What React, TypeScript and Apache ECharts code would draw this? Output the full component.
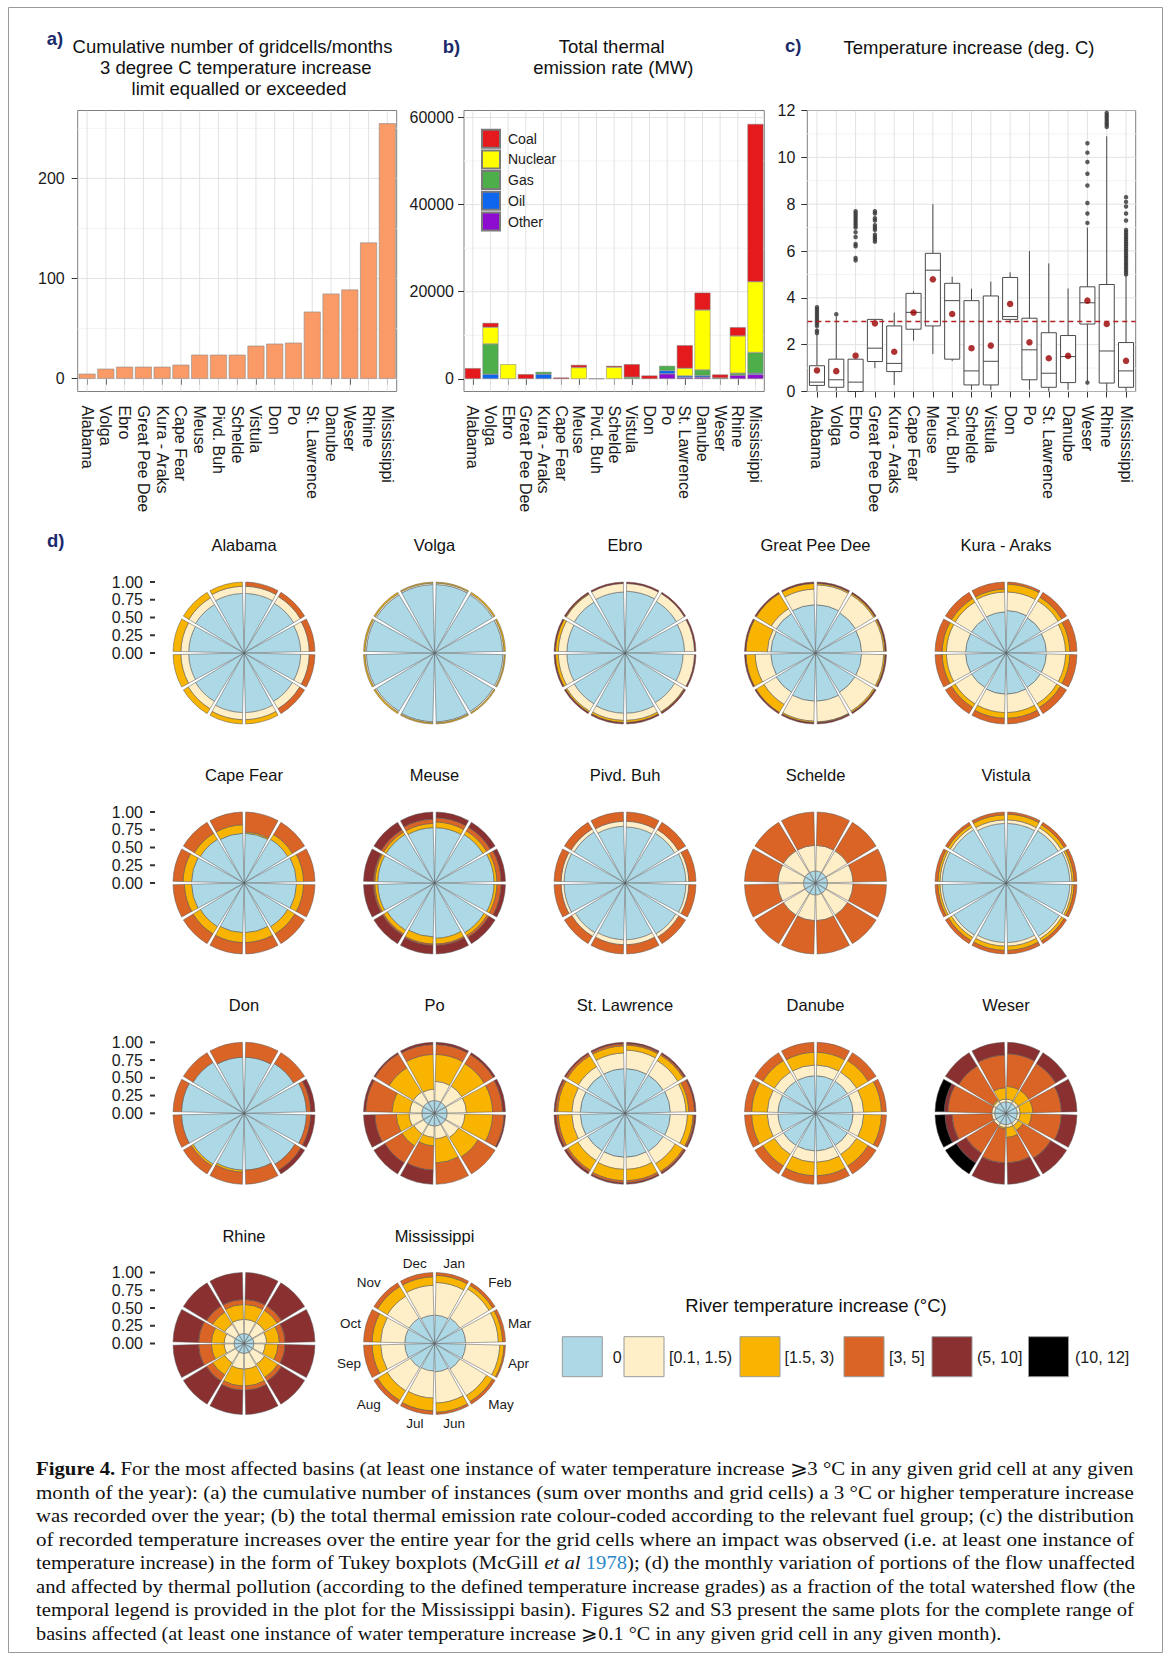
import React, { useEffect, useRef } from "react";
import * as echarts from "echarts";

// ---------------- DATA ----------------
const BASINS = [
  "Alabama", "Volga", "Ebro", "Great Pee Dee", "Kura - Araks", "Cape Fear", "Meuse", "Pivd. Buh",
  "Schelde", "Vistula", "Don", "Po", "St. Lawrence", "Danube", "Weser", "Rhine", "Mississippi",
];

// (a) cumulative number of gridcells/months with >= 3 degC
const GRIDCELL_MONTHS = [5, 10, 12, 12, 12, 14, 24, 24, 24, 33, 35, 36, 67, 85, 89, 136, 255];
const A_TICKS = [0, 100, 200];
const A_MINOR = [50, 150, 250];

// (b) thermal emission rate (MW) by fuel
const FUEL_OTHER = [0, 0, 0, 0, 0, 0, 0, 0, 0, 0, 0, 1150, 300, 380, 0, 840, 1000];
const FUEL_OIL = [0, 1070, 0, 0, 1070, 0, 0, 0, 0, 0, 0, 760, 380, 380, 0, 0, 300];
const FUEL_GAS = [0, 6950, 0, 0, 530, 0, 0, 0, 0, 380, 0, 1070, 0, 1300, 200, 460, 4740];
const FUEL_NUCLEAR = [0, 3820, 3350, 0, 0, 0, 2600, 0, 2670, 0, 0, 0, 1760, 13750, 0, 8560, 16270];
const FUEL_COAL = [2450, 1000, 0, 1070, 0, 300, 600, 60, 300, 2980, 760, 0, 5270, 3970, 800, 1990, 36200];
const B_TICKS = [0, 20000, 40000, 60000];
const B_MINOR = [10000, 30000, 50000];

// (c) temperature increase boxplots
const BOX_LOW = [0.02, 0.02, 0.0, 1.0, 0.28, 2.17, 1.6, 1.3, 0.07, 0.07, 2.91, 0.07, 0.0, 0.07, 0.45, 0.0, 0.0];
const BOX_Q1 = [0.26, 0.18, 0.0, 1.28, 0.85, 2.66, 2.8, 1.38, 0.28, 0.28, 3.08, 0.5, 0.18, 0.38, 2.88, 0.36, 0.18];
const BOX_MED = [0.4, 0.5, 0.4, 1.85, 1.2, 3.38, 5.18, 3.88, 0.88, 1.29, 3.2, 1.78, 0.78, 1.49, 3.79, 1.73, 0.88];
const BOX_Q3 = [1.1, 1.38, 1.38, 3.08, 2.8, 4.19, 5.9, 4.62, 3.88, 4.08, 4.87, 3.13, 2.51, 2.39, 4.47, 4.57, 2.09];
const BOX_HIGH = [2.45, 3.2, 1.38, 3.08, 3.37, 4.3, 8.0, 4.9, 4.39, 4.69, 5.09, 6.0, 5.47, 4.4, 7.0, 10.9, 4.97];
const BOX_MEAN = [0.9, 0.87, 1.53, 2.91, 1.7, 3.37, 4.79, 3.31, 1.85, 1.96, 3.74, 2.1, 1.42, 1.52, 3.88, 2.88, 1.31];
const OUTLIERS = [
  [2.5, 2.6, 2.8, 2.9, 3.0, 3.1, 3.2, 3.3, 3.4, 3.5, 3.6],
  [3.3],
  [5.6, 5.7, 6.2, 6.3, 6.6, 6.8, 7.0, 7.1, 7.2, 7.3, 7.4, 7.5, 7.6, 7.7],
  [6.4, 6.5, 6.6, 6.7, 6.9, 7.0, 7.1, 7.3, 7.4, 7.6, 7.7],
  [], [], [], [], [], [], [], [], [], [],
  [0.38, 7.2, 7.6, 8.05, 8.8, 9.3, 9.8, 10.2, 10.6],
  [11.3, 11.4, 11.5, 11.6, 11.7, 11.8, 11.9],
  [5.0, 5.1, 5.2, 5.3, 5.4, 5.5, 5.6, 5.7, 5.8, 5.9, 6.0, 6.1, 6.2, 6.3, 6.4, 6.5, 6.6, 6.7, 6.8, 6.9, 7.3, 7.6, 7.9, 8.1, 8.3],
];
const C_TICKS = [0, 2, 4, 6, 8, 10, 12];
const C_MINOR = [1, 3, 5, 7, 9, 11];
const THRESHOLD = 3;

// (d) monthly flow fractions per grade: [0, [0.1,1.5), [1.5,3), [3,5], (5,10], (10,12]]
const MONTHS = ["Jan", "Feb", "Mar", "Apr", "May", "Jun", "Jul", "Aug", "Sep", "Oct", "Nov", "Dec"];
const GRADES = ["0", "[0.1, 1.5)", "[1.5, 3)", "[3, 5]", "(5, 10]", "(10, 12]"];
const RADIAL_TICKS = ["1.00", "0.75", "0.50", "0.25", "0.00"];

const FLOW_ALABAMA = [
  [0.84, 0.10, 0, 0.06, 0, 0], [0.82, 0.11, 0, 0.07, 0, 0], [0.80, 0.12, 0, 0.08, 0, 0],
  [0.80, 0.12, 0, 0.08, 0, 0], [0.80, 0.12, 0, 0.08, 0, 0], [0.84, 0.10, 0.06, 0, 0, 0],
  [0.84, 0.10, 0.06, 0, 0, 0], [0.80, 0.12, 0.08, 0, 0, 0], [0.78, 0.11, 0.11, 0, 0, 0],
  [0.78, 0.11, 0.11, 0, 0, 0], [0.80, 0.11, 0.09, 0, 0, 0], [0.84, 0.10, 0.06, 0, 0, 0],
];
const FLOW_VOLGA = [
  [0.965, 0.02, 0.015, 0, 0, 0], [0.96, 0.02, 0.02, 0, 0, 0], [0.96, 0.02, 0.02, 0, 0, 0],
  [0.965, 0.02, 0.015, 0, 0, 0], [0.965, 0.02, 0.015, 0, 0, 0], [0.97, 0.015, 0.015, 0, 0, 0],
  [0.97, 0.015, 0.015, 0, 0, 0], [0.96, 0.02, 0.02, 0, 0, 0], [0.96, 0.02, 0.02, 0, 0, 0],
  [0.96, 0.02, 0.02, 0, 0, 0], [0.96, 0.02, 0.02, 0, 0, 0], [0.965, 0.02, 0.015, 0, 0, 0],
];
const FLOW_EBRO = [
  [0.87, 0.11, 0, 0, 0.02, 0], [0.85, 0.13, 0, 0, 0.02, 0], [0.84, 0.14, 0, 0, 0.02, 0],
  [0.82, 0.16, 0, 0, 0.02, 0], [0.82, 0.15, 0.01, 0, 0.02, 0], [0.85, 0.10, 0.03, 0, 0.02, 0],
  [0.85, 0.10, 0.03, 0, 0.02, 0], [0.84, 0.12, 0.02, 0, 0.02, 0], [0.82, 0.12, 0.04, 0, 0.02, 0],
  [0.82, 0.12, 0.04, 0, 0.02, 0], [0.84, 0.13, 0.01, 0, 0.02, 0], [0.86, 0.12, 0, 0, 0.02, 0],
];
const FLOW_GREAT_PEE_DEE = [
  [0.68, 0.28, 0.02, 0, 0.02, 0], [0.66, 0.30, 0.02, 0, 0.02, 0], [0.65, 0.31, 0.02, 0, 0.02, 0],
  [0.65, 0.31, 0.02, 0, 0.02, 0], [0.65, 0.31, 0.02, 0, 0.02, 0], [0.68, 0.29, 0.01, 0, 0.02, 0],
  [0.68, 0.28, 0.02, 0, 0.02, 0], [0.65, 0.20, 0.13, 0, 0.02, 0], [0.63, 0.22, 0.13, 0, 0.02, 0],
  [0.63, 0.05, 0.30, 0, 0.02, 0], [0.65, 0.08, 0.25, 0, 0.02, 0], [0.68, 0.22, 0.08, 0, 0.02, 0],
];
const FLOW_KURA_ARAKS = [
  [0.60, 0.26, 0.11, 0.03, 0, 0], [0.58, 0.28, 0.06, 0.08, 0, 0], [0.57, 0.27, 0.06, 0.10, 0, 0],
  [0.57, 0.27, 0.06, 0.10, 0, 0], [0.57, 0.27, 0.06, 0.10, 0, 0], [0.58, 0.26, 0.08, 0.08, 0, 0],
  [0.58, 0.26, 0.08, 0.08, 0, 0], [0.57, 0.27, 0.06, 0.10, 0, 0], [0.57, 0.27, 0.06, 0.10, 0, 0],
  [0.57, 0.27, 0.06, 0.10, 0, 0], [0.57, 0.27, 0.06, 0.10, 0, 0], [0.58, 0.28, 0.04, 0.10, 0, 0],
];
const FLOW_CAPE_FEAR = [
  [0.70, 0, 0.02, 0.28, 0, 0], [0.72, 0, 0.08, 0.20, 0, 0], [0.74, 0, 0.10, 0.16, 0, 0],
  [0.74, 0, 0.10, 0.16, 0, 0], [0.72, 0, 0.12, 0.16, 0, 0], [0.70, 0, 0.14, 0.16, 0, 0],
  [0.70, 0, 0.14, 0.16, 0, 0], [0.72, 0, 0.12, 0.16, 0, 0], [0.74, 0, 0.10, 0.16, 0, 0],
  [0.74, 0, 0.12, 0.14, 0, 0], [0.72, 0, 0.10, 0.18, 0, 0], [0.70, 0, 0.12, 0.18, 0, 0],
];
const FLOW_MEUSE = [
  [0.78, 0, 0.08, 0.06, 0.08, 0], [0.80, 0, 0.06, 0.06, 0.08, 0], [0.84, 0, 0.04, 0.06, 0.06, 0],
  [0.84, 0, 0.04, 0.06, 0.06, 0], [0.82, 0, 0.05, 0.03, 0.10, 0], [0.78, 0, 0.08, 0.02, 0.12, 0],
  [0.76, 0, 0.10, 0.02, 0.12, 0], [0.78, 0, 0.06, 0.02, 0.14, 0], [0.80, 0, 0.04, 0.02, 0.14, 0],
  [0.80, 0, 0.04, 0.02, 0.14, 0], [0.80, 0, 0.04, 0.04, 0.12, 0], [0.78, 0, 0.06, 0.06, 0.10, 0],
];
const FLOW_PIVD_BUH = [
  [0.79, 0.08, 0, 0.13, 0, 0], [0.82, 0.06, 0, 0.12, 0, 0], [0.86, 0.04, 0, 0.10, 0, 0],
  [0.86, 0.04, 0, 0.10, 0, 0], [0.84, 0.05, 0, 0.11, 0, 0], [0.80, 0.07, 0, 0.13, 0, 0],
  [0.80, 0.07, 0, 0.13, 0, 0], [0.82, 0.06, 0, 0.12, 0, 0], [0.86, 0.04, 0, 0.10, 0, 0],
  [0.86, 0.04, 0, 0.10, 0, 0], [0.84, 0.05, 0, 0.11, 0, 0], [0.80, 0.07, 0, 0.13, 0, 0],
];
const FLOW_SCHELDE = [
  [0.17, 0.36, 0, 0.47, 0, 0], [0.17, 0.36, 0, 0.47, 0, 0], [0.17, 0.36, 0, 0.47, 0, 0],
  [0.17, 0.36, 0, 0.47, 0, 0], [0.17, 0.36, 0, 0.47, 0, 0], [0.17, 0.36, 0, 0.47, 0, 0],
  [0.17, 0.36, 0, 0.47, 0, 0], [0.17, 0.36, 0, 0.47, 0, 0], [0.17, 0.36, 0, 0.47, 0, 0],
  [0.17, 0.36, 0, 0.47, 0, 0], [0.17, 0.36, 0, 0.47, 0, 0], [0.17, 0.36, 0, 0.47, 0, 0],
];
const FLOW_VISTULA = [
  [0.84, 0.05, 0.08, 0.03, 0, 0], [0.86, 0.05, 0.05, 0.04, 0, 0], [0.90, 0.03, 0.03, 0.04, 0, 0],
  [0.90, 0.03, 0.03, 0.04, 0, 0], [0.88, 0.04, 0.04, 0.04, 0, 0], [0.84, 0.05, 0.06, 0.05, 0, 0],
  [0.84, 0.05, 0.06, 0.05, 0, 0], [0.86, 0.04, 0.05, 0.05, 0, 0], [0.90, 0.03, 0.03, 0.04, 0, 0],
  [0.90, 0.03, 0.03, 0.04, 0, 0], [0.88, 0.04, 0.04, 0.04, 0, 0], [0.84, 0.05, 0.07, 0.04, 0, 0],
];
const FLOW_DON = [
  [0.79, 0, 0, 0.21, 0, 0], [0.82, 0, 0, 0.18, 0, 0], [0.88, 0, 0, 0.06, 0.06, 0],
  [0.88, 0, 0, 0.06, 0.06, 0], [0.84, 0, 0, 0.10, 0.06, 0], [0.80, 0, 0, 0.20, 0, 0],
  [0.80, 0, 0.03, 0.17, 0, 0], [0.84, 0, 0.03, 0.13, 0, 0], [0.88, 0, 0, 0.12, 0, 0],
  [0.88, 0, 0, 0.12, 0, 0], [0.84, 0, 0, 0.16, 0, 0], [0.79, 0, 0, 0.21, 0, 0],
];
const FLOW_PO = [
  [0.18, 0.27, 0.38, 0.14, 0.03, 0], [0.18, 0.27, 0.37, 0.15, 0.03, 0], [0.18, 0.27, 0.37, 0.14, 0.04, 0],
  [0.18, 0.25, 0.39, 0.16, 0.02, 0], [0.18, 0.22, 0.32, 0.28, 0, 0], [0.18, 0.18, 0.34, 0.30, 0, 0],
  [0.18, 0.16, 0.12, 0.34, 0.20, 0], [0.18, 0.16, 0.20, 0.28, 0.18, 0], [0.18, 0.18, 0.18, 0.30, 0.16, 0],
  [0.18, 0.17, 0.25, 0.37, 0.03, 0], [0.18, 0.17, 0.40, 0.23, 0.02, 0], [0.18, 0.16, 0.49, 0.14, 0.03, 0],
];
const FLOW_ST_LAWRENCE = [
  [0.63, 0.26, 0.07, 0.02, 0.02, 0], [0.63, 0.24, 0.09, 0.02, 0.02, 0], [0.64, 0.22, 0.04, 0.08, 0.02, 0],
  [0.64, 0.24, 0.08, 0.02, 0.02, 0], [0.63, 0.20, 0.13, 0.02, 0.02, 0], [0.62, 0.17, 0.16, 0.03, 0.02, 0],
  [0.62, 0.17, 0.16, 0.03, 0.02, 0], [0.62, 0.16, 0.16, 0.03, 0.03, 0], [0.63, 0.12, 0.19, 0.03, 0.03, 0],
  [0.63, 0.12, 0.20, 0.03, 0.02, 0], [0.63, 0.14, 0.18, 0.03, 0.02, 0], [0.63, 0.22, 0.10, 0.03, 0.02, 0],
];
const FLOW_DANUBE = [
  [0.53, 0.15, 0.18, 0.14, 0, 0], [0.53, 0.15, 0.19, 0.13, 0, 0], [0.53, 0.15, 0.25, 0.07, 0, 0],
  [0.53, 0.15, 0.25, 0.07, 0, 0], [0.53, 0.15, 0.19, 0.13, 0, 0], [0.53, 0.16, 0.19, 0.12, 0, 0],
  [0.53, 0.16, 0.19, 0.12, 0, 0], [0.53, 0.15, 0.19, 0.13, 0, 0], [0.53, 0.15, 0.22, 0.10, 0, 0],
  [0.53, 0.15, 0.22, 0.10, 0, 0], [0.53, 0.15, 0.19, 0.13, 0, 0], [0.53, 0.15, 0.18, 0.14, 0, 0],
];
const FLOW_WESER = [
  [0.16, 0.04, 0.18, 0.46, 0.16, 0], [0.16, 0.04, 0.18, 0.44, 0.18, 0], [0.16, 0.04, 0.18, 0.40, 0.22, 0],
  [0.16, 0.04, 0.16, 0.42, 0.22, 0], [0.16, 0.04, 0.08, 0.46, 0.26, 0], [0.16, 0.04, 0.14, 0.36, 0.30, 0],
  [0.16, 0.04, 0.02, 0.48, 0.30, 0], [0.16, 0.04, 0, 0.46, 0.16, 0.18], [0.16, 0.04, 0, 0.56, 0.10, 0.14],
  [0.16, 0.04, 0, 0.62, 0.05, 0.13], [0.16, 0.04, 0.02, 0.56, 0.22, 0], [0.16, 0.04, 0.16, 0.46, 0.18, 0],
];
const FLOW_RHINE = [
  [0.14, 0.20, 0.21, 0.07, 0.38, 0], [0.14, 0.20, 0.21, 0.07, 0.38, 0], [0.14, 0.18, 0.18, 0.08, 0.42, 0],
  [0.14, 0.16, 0.18, 0.10, 0.42, 0], [0.14, 0.20, 0.22, 0.06, 0.38, 0], [0.14, 0.22, 0.24, 0.06, 0.34, 0],
  [0.14, 0.22, 0.24, 0.06, 0.34, 0], [0.14, 0.18, 0.20, 0.10, 0.38, 0], [0.14, 0.14, 0.18, 0.18, 0.36, 0],
  [0.14, 0.14, 0.18, 0.18, 0.36, 0], [0.14, 0.18, 0.20, 0.10, 0.38, 0], [0.14, 0.20, 0.21, 0.07, 0.38, 0],
];
const FLOW_MISSISSIPPI = [
  [0.40, 0.46, 0.10, 0.04, 0, 0], [0.42, 0.48, 0.06, 0.04, 0, 0], [0.44, 0.46, 0.06, 0.04, 0, 0],
  [0.44, 0.48, 0.06, 0.02, 0, 0], [0.42, 0.44, 0.10, 0.04, 0, 0], [0.40, 0.44, 0.13, 0.03, 0, 0],
  [0.39, 0.38, 0.18, 0.05, 0, 0], [0.40, 0.38, 0.16, 0.06, 0, 0], [0.42, 0.34, 0.12, 0.12, 0, 0],
  [0.42, 0.34, 0.12, 0.12, 0, 0], [0.42, 0.36, 0.16, 0.06, 0, 0], [0.40, 0.42, 0.12, 0.06, 0, 0],
];
const FLOWS = [
  FLOW_ALABAMA, FLOW_VOLGA, FLOW_EBRO, FLOW_GREAT_PEE_DEE, FLOW_KURA_ARAKS, FLOW_CAPE_FEAR, FLOW_MEUSE,
  FLOW_PIVD_BUH, FLOW_SCHELDE, FLOW_VISTULA, FLOW_DON, FLOW_PO, FLOW_ST_LAWRENCE, FLOW_DANUBE, FLOW_WESER,
  FLOW_RHINE, FLOW_MISSISSIPPI,
];

const CAPTION = [
  "{b|Figure 4.} For the most affected basins (at least one instance of water temperature increase ⩾3 °C in any given grid cell at any given",
  "month of the year): (a) the cumulative number of instances (sum over months and grid cells) a 3 °C or higher temperature increase",
  "was recorded over the year; (b) the total thermal emission rate colour-coded according to the relevant fuel group; (c) the distribution",
  "of recorded temperature increases over the entire year for the grid cells where an impact was observed (i.e. at least one instance of",
  "temperature increase) in the form of Tukey boxplots (McGill {i|et al} {l|1978}); (d) the monthly variation of portions of the flow unaffected",
  "and affected by thermal pollution (according to the defined temperature increase grades) as a fraction of the total watershed flow (the",
  "temporal legend is provided in the plot for the Mississippi basin). Figures S2 and S3 present the same plots for the complete range of",
  "basins affected (at least one instance of water temperature increase ⩾0.1 °C in any given grid cell in any given month).",
];

// ---------------- STYLE / LAYOUT ----------------
const SANS = '"Liberation Sans", Arial, Helvetica, sans-serif';
const SERIF = '"Liberation Serif", "Times New Roman", serif';
const NAVY = "#1b2a6b";
const TXT = "#1a1a1a";
const GRID_MAJOR = "#e2e2e2";
const GRID_MINOR = "#f3f3f3";
const BAR_A = "#fa9a66";
const FUEL_COLORS = { Coal: "#e41a1c", Nuclear: "#ffff00", Gas: "#4daf4a", Oil: "#0f66ee", Other: "#8e0bd0" };
const GRADE_COLORS = ["#add8e6", "#ffefc8", "#f8b400", "#da6425", "#8a3030", "#000000"];

const PLOT_TOP = 110.5;
const PLOT_H = 281;
const GRIDS = [
  { left: 77.7, top: PLOT_TOP, width: 319, height: PLOT_H },
  { left: 464, top: PLOT_TOP, width: 300.3, height: PLOT_H },
  { left: 807.3, top: PLOT_TOP, width: 328.4, height: PLOT_H },
];
const POLAR_COLS = [244, 434.5, 625, 815.5, 1006];
const POLAR_ROWS = [653, 883, 1113.3, 1343.5];
const POLAR_R = 71;

const CAP_FS = 19.5;
const CAP_LEFT = 36;
const CAP_RIGHT = 1135;
const CAP_LAST_RIGHT = 1002;

function hLines(gi: number, values: number[], color: string) {
  return {
    type: "custom", xAxisIndex: gi, yAxisIndex: gi, z: 1, silent: true, clip: true,
    data: values.map((v) => [0, v]),
    encode: { x: 0, y: 1 },
    renderItem: (params: any, api: any) => {
      const cs = params.coordSys;
      const y = api.coord([0, api.value(1)])[1];
      return { type: "line", shape: { x1: cs.x, y1: y, x2: cs.x + cs.width, y2: y }, style: { stroke: color, lineWidth: 1 } };
    },
  };
}
function vLines(gi: number) {
  return {
    type: "custom", xAxisIndex: gi, yAxisIndex: gi, z: 1, silent: true, clip: true,
    data: BASINS.map((_, i) => [i, 0]),
    encode: { x: 0, y: 1 },
    renderItem: (params: any, api: any) => {
      const cs = params.coordSys;
      const x = api.coord([api.value(0), 0])[0];
      return { type: "line", shape: { x1: x, y1: cs.y, x2: x, y2: cs.y + cs.height }, style: { stroke: GRID_MAJOR, lineWidth: 1 } };
    },
  };
}

function catAxis(gi: number) {
  return {
    type: "category", gridIndex: gi, data: BASINS,
    axisLine: { show: false },
    axisTick: { show: true, alignWithLabel: true, length: 6, interval: 0, lineStyle: { color: "#333", width: 1 } },
    axisLabel: { rotate: -90, interval: 0, margin: 14, fontSize: 16, color: TXT, fontFamily: SANS },
    splitLine: { show: false },
  };
}
function valAxis(gi: number, min: number, max: number, ticks: number[], margin: number) {
  return {
    type: "value", gridIndex: gi, min, max, splitNumber: 3,
    axisLine: { show: false },
    axisTick: { show: true, length: 6, customValues: ticks, lineStyle: { color: "#333", width: 1 } },
    axisLabel: { customValues: ticks, margin, fontSize: 16, color: TXT, fontFamily: SANS, formatter: (v: number) => String(v) },
    splitLine: { show: false },
  };
}

function txt(x: number, y: number, text: string, font: string, align = "center", fill = "#111") {
  return { type: "text", x, y, silent: true, style: { text, font, fill, textAlign: align, textVerticalAlign: "middle" } };
}

function measureCaption(line: string): number {
  const c = document.createElement("canvas").getContext("2d");
  if (!c) return 0;
  const base = `${CAP_FS}px ${SERIF}`;
  const re = /\{(\w)\|([^}]*)\}/g;
  let w = 0;
  let last = 0;
  let m: RegExpExecArray | null;
  while ((m = re.exec(line))) {
    c.font = base;
    w += c.measureText(line.slice(last, m.index)).width;
    c.font = (m[1] === "b" ? "bold " : m[1] === "i" ? "italic " : "") + base;
    w += c.measureText(m[2]).width;
    last = re.lastIndex;
  }
  c.font = base;
  w += c.measureText(line.slice(last)).width;
  return w;
}

function buildOption() {
  const series: any[] = [];

  // ---- panel a
  series.push(hLines(0, A_MINOR, GRID_MINOR), hLines(0, A_TICKS, GRID_MAJOR), vLines(0));
  series.push({
    type: "bar", xAxisIndex: 0, yAxisIndex: 0, data: GRIDCELL_MONTHS, barCategoryGap: "10%", z: 2,
    itemStyle: { color: BAR_A, borderColor: "#8c8c8c", borderWidth: 0.6 },
  });

  // ---- panel b
  series.push(hLines(1, B_MINOR, GRID_MINOR), hLines(1, B_TICKS, GRID_MAJOR), vLines(1));
  const fuels: [string, number[]][] = [
    ["Other", FUEL_OTHER], ["Oil", FUEL_OIL], ["Gas", FUEL_GAS], ["Nuclear", FUEL_NUCLEAR], ["Coal", FUEL_COAL],
  ];
  fuels.forEach(([name, vals]) => {
    series.push({
      type: "bar", name, stack: "fuel", xAxisIndex: 1, yAxisIndex: 1, barCategoryGap: "10%", z: 2,
      data: vals.map((v) => (v > 0 ? v : "-")),
      itemStyle: { color: (FUEL_COLORS as any)[name], borderColor: "#7a7a7a", borderWidth: 0.5 },
    });
  });

  // ---- panel c
  series.push(hLines(2, C_MINOR, GRID_MINOR), hLines(2, C_TICKS, GRID_MAJOR), vLines(2));
  series.push({
    type: "custom", xAxisIndex: 2, yAxisIndex: 2, z: 2, silent: true,
    data: BASINS.map((_, i) => [i, BOX_LOW[i], BOX_Q1[i], BOX_MED[i], BOX_Q3[i], BOX_HIGH[i]]),
    encode: { x: 0, y: [1, 2, 3, 4, 5] },
    renderItem: (params: any, api: any) => {
      const i = api.value(0);
      const pt = (k: number) => api.coord([i, api.value(k)]);
      const lo = pt(1), q1 = pt(2), md = pt(3), q3 = pt(4), hi = pt(5);
      const w = api.size([1, 0])[0] * 0.78;
      const x = lo[0];
      const st = { stroke: "#4a4a4a", lineWidth: 1 };
      return {
        type: "group",
        children: [
          { type: "line", shape: { x1: x, y1: lo[1], x2: x, y2: q1[1] }, style: st },
          { type: "line", shape: { x1: x, y1: q3[1], x2: x, y2: hi[1] }, style: st },
          { type: "rect", shape: { x: x - w / 2, y: q3[1], width: w, height: q1[1] - q3[1] }, style: { fill: "#fff", stroke: "#4a4a4a", lineWidth: 1 } },
          { type: "line", shape: { x1: x - w / 2, y1: md[1], x2: x + w / 2, y2: md[1] }, style: st },
        ],
      };
    },
  });
  const outl: number[][] = [];
  OUTLIERS.forEach((list, i) => list.forEach((v) => outl.push([i, v])));
  series.push({
    type: "scatter", xAxisIndex: 2, yAxisIndex: 2, z: 3, silent: true, data: outl, symbolSize: 4.5,
    itemStyle: { color: "#333" },
  });
  series.push({
    type: "scatter", xAxisIndex: 2, yAxisIndex: 2, z: 4, silent: true, symbolSize: 6.5,
    data: BOX_MEAN.map((v, i) => [i, v]),
    itemStyle: { color: "#990000" },
    markLine: {
      silent: true, symbol: ["none", "none"], label: { show: false },
      lineStyle: { color: "#b22222", type: [5, 4], width: 1.4 },
      data: [{ yAxis: THRESHOLD }],
    },
  });

  // ---- panel d (polar)
  const polars: any[] = [];
  const angleAxes: any[] = [];
  const radiusAxes: any[] = [];
  BASINS.forEach((b, p) => {
    const cx = POLAR_COLS[p % 5];
    const cy = POLAR_ROWS[Math.floor(p / 5)];
    polars.push({ center: [cx, cy], radius: POLAR_R });
    angleAxes.push({
      polarIndex: p, type: "category", data: MONTHS, startAngle: 90, clockwise: true, z: 10,
      axisLine: { show: false }, axisTick: { show: false }, splitLine: { show: false }, splitArea: { show: false },
      axisLabel: p === 16 ? { show: true, interval: 0, fontSize: 13.5, margin: 5, color: TXT, fontFamily: SANS } : { show: false },
    });
    const showRadial = p % 5 === 0;
    radiusAxes.push({
      polarIndex: p, type: "value", min: 0, max: 1, interval: 0.25, z: 10,
      axisLine: { show: false }, axisTick: { show: false }, splitLine: { show: false }, splitArea: { show: false },
      axisLabel: showRadial
        ? {
            show: true, margin: 89,
            formatter: (v: number) => `{v|${RADIAL_TICKS[Math.round((1 - v) * 4)]}}{s|}{t|}`,
            rich: {
              v: { fontSize: 16, color: TXT, fontFamily: SANS },
              s: { width: 7 },
              t: { width: 5, height: 2, backgroundColor: "#333" },
            },
          }
        : { show: false },
    });
    GRADES.forEach((g, gi) => {
      series.push({
        type: "bar", coordinateSystem: "polar", polarIndex: p, stack: "flow" + p, name: g, silent: true,
        barCategoryGap: "9%",
        data: FLOWS[p].map((m) => (m[gi] > 0 ? m[gi] : "-")),
        itemStyle: { color: GRADE_COLORS[gi], borderColor: "#555", borderWidth: 0.5 },
      });
    });
  });

  // ---- graphic texts
  const TITLE = `18.5px ${SANS}`;
  const LABEL = `bold 18.5px ${SANS}`;
  const graphic: any[] = [
    { type: "rect", silent: true, shape: { x: 8.5, y: 7.5, width: 1154, height: 1645 }, style: { fill: "none", stroke: "#9a9a9a", lineWidth: 1 } },
    txt(46.7, 38.3, "a)", LABEL, "left", NAVY),
    txt(232.5, 46.7, "Cumulative number of gridcells/months", TITLE),
    txt(235.8, 67.3, "3 degree C temperature increase", TITLE),
    txt(239, 88.3, "limit equalled or exceeded", TITLE),
    txt(442.7, 46.7, "b)", LABEL, "left", NAVY),
    txt(611.7, 46.7, "Total thermal", TITLE),
    txt(613.3, 67.3, "emission rate (MW)", TITLE),
    txt(785, 45, "c)", LABEL, "left", NAVY),
    txt(969, 47.3, "Temperature increase (deg. C)", TITLE),
    txt(47, 540, "d)", LABEL, "left", NAVY),
  ];
  BASINS.forEach((b, p) => {
    const cx = POLAR_COLS[p % 5];
    const cy = POLAR_ROWS[Math.floor(p / 5)];
    graphic.push(txt(cx, cy - 108, b, `16.5px ${SANS}`));
  });
  // legend for (d)
  graphic.push(txt(816, 1305, "River temperature increase (°C)", TITLE));
  const boxX = [562.3, 624, 740, 844, 932, 1028.5];
  const labX = [612.7, 669, 784.5, 889, 977, 1075];
  GRADES.forEach((g, gi) => {
    graphic.push({
      type: "rect", silent: true, shape: { x: boxX[gi], y: 1336.7, width: 40, height: 40 },
      style: { fill: GRADE_COLORS[gi], stroke: "#9a9a9a", lineWidth: 1 },
    });
    graphic.push(txt(labX[gi], 1357, g, `16px ${SANS}`, "left", TXT));
  });
  // caption (each line stretched to the justified width)
  CAPTION.forEach((line, li) => {
    const natural = measureCaption(line);
    const target = li === CAPTION.length - 1 ? CAP_LAST_RIGHT - CAP_LEFT : CAP_RIGHT - CAP_LEFT;
    const sx = natural > 0 ? Math.min(1.2, Math.max(0.85, target / natural)) : 1;
    graphic.push({
      type: "text", x: CAP_LEFT, y: 1468.5 + li * 23.45, scaleX: sx, silent: true,
      style: {
        text: line, fontSize: CAP_FS, fontFamily: SERIF, fill: "#111",
        textAlign: "left", textVerticalAlign: "middle",
        rich: {
          b: { fontSize: CAP_FS, fontFamily: SERIF, fontWeight: "bold", fill: "#111" },
          i: { fontSize: CAP_FS, fontFamily: SERIF, fontStyle: "italic", fill: "#111" },
          l: { fontSize: CAP_FS, fontFamily: SERIF, fill: "#2a87c8" },
        },
      },
    });
  });

  return {
    animation: false,
    backgroundColor: "#ffffff",
    textStyle: { fontFamily: SANS },
    grid: GRIDS.map((g) => ({ ...g, show: true, backgroundColor: "#fff", borderColor: "#7f7f7f", borderWidth: 1, containLabel: false })),
    xAxis: [catAxis(0), catAxis(1), catAxis(2)],
    yAxis: [
      valAxis(0, -12.75, 267.75, A_TICKS, 13),
      valAxis(1, -2900, 61600, B_TICKS, 10),
      { ...valAxis(2, 0, 12, C_TICKS, 12), interval: 2 },
    ],
    legend: [{
      data: ["Coal", "Nuclear", "Gas", "Oil", "Other"],
      orient: "vertical", left: 481, top: 128.7, padding: 0, itemGap: 0.7,
      itemWidth: 18, itemHeight: 18, icon: "rect", selectedMode: false,
      textStyle: { fontSize: 14, color: TXT, fontFamily: SANS, padding: [0, 0, 0, 3] },
    }],
    polar: polars,
    angleAxis: angleAxes,
    radiusAxis: radiusAxes,
    series,
    graphic,
  };
}

export default function App() {
  const ref = useRef<HTMLDivElement>(null);
  useEffect(() => {
    if (!ref.current) return;
    const chart = echarts.init(ref.current, null, { renderer: "svg" });
    chart.setOption(buildOption() as any);
    return () => chart.dispose();
  }, []);
  return (
    <div
      ref={ref}
      style={{ position: "absolute", left: 0, top: 0, width: 1171, height: 1660, background: "#fff" }}
    />
  );
}
